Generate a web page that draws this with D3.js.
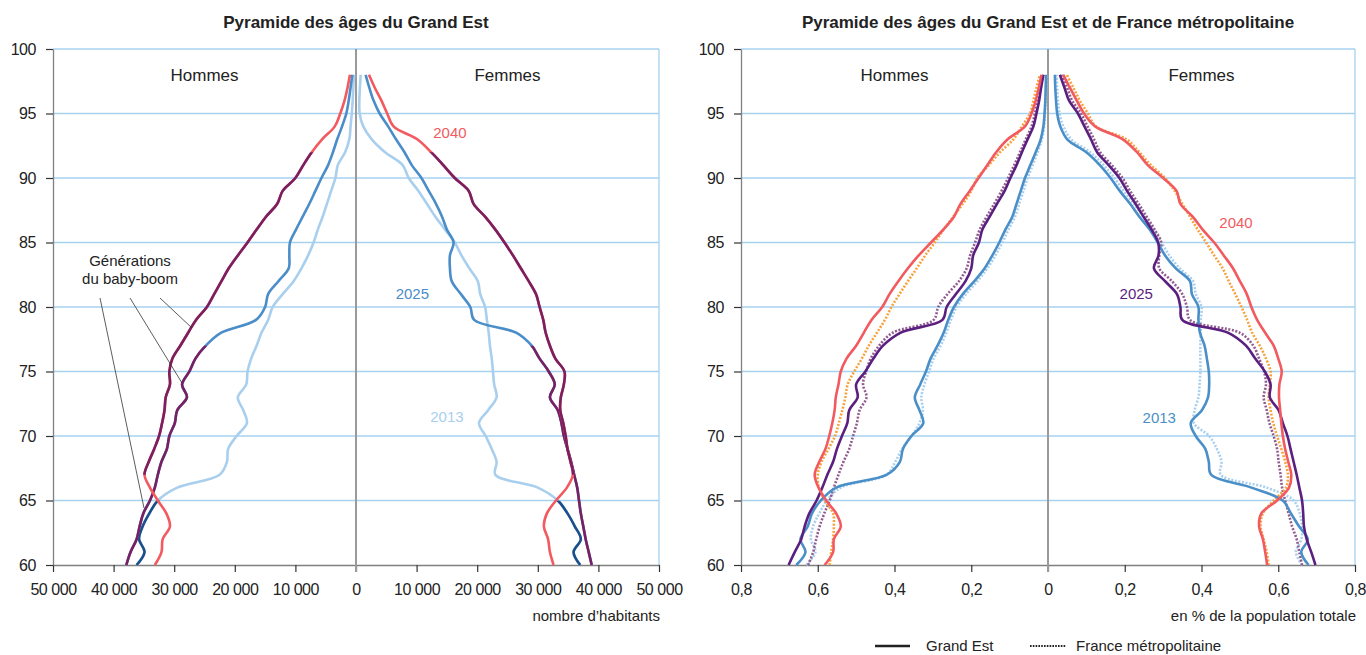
<!DOCTYPE html>
<html>
<head>
<meta charset="utf-8">
<script src="https://cdn.jsdelivr.net/npm/d3@7"></script>
<style>
	body { margin: 0; background: #fff; }
	svg text { font-family: "Liberation Sans", Arial, sans-serif; fill: #222; }
</style>
</head>
<body>
<div id="chart"></div>
<script>
//age categories (bottom to top)
var ages = [60,61,62,63,64,65,66,67,68,69,70,71,72,73,74,75,76,77,78,79,80,81,82,83,84,85,86,87,88,89,90,91,92,93,94,95,96,97,98];
var ageTicks = [60,65,70,75,80,85,90,95,100];

//baby-boom birth years
var boomFirst = 1948;
var boomLast = 1973;

//Grand Est, number of inhabitants
var countH2013 = [36200,34900,35800,35200,34100,32700,29500,22500,21300,21100,19700,18000,18600,19500,18100,17900,17300,16400,15600,14500,13750,12100,10300,9000,7900,7000,6300,5500,4800,4100,3400,3000,1800,1100,900,700,550,450,330];
var countH2025 = [37900,37200,36200,35700,35100,34000,33200,32700,32100,31200,30800,29900,29500,27900,28700,27500,26500,24800,22300,16500,15000,14500,12800,11100,11000,10900,9900,8800,7700,6700,5700,4600,3800,3100,2300,1600,1200,900,600];
var countH2040 = [33200,32100,31900,30700,31300,32700,34000,34900,34200,33300,32500,32000,31600,31400,30700,30800,30300,29000,27700,26400,24600,23400,22200,21000,19500,17900,16400,14850,13000,12100,10000,8700,7300,5600,3500,2600,1900,1400,1000];
var countF2013 = [37000,35900,37100,36100,34900,33300,30000,23000,23200,22400,21400,20300,21800,23200,22800,22600,22400,22100,21900,21600,21300,20500,20100,18700,17400,16300,14700,13100,11700,10300,8700,7700,4800,2600,1200,600,550,650,770];
var countF2025 = [38900,38400,37900,37500,37100,36800,36500,36000,35500,34900,34300,33900,33300,32000,32800,31800,30300,29000,26500,19500,18860,17300,15800,15500,15500,16100,15000,14200,13200,12000,10800,9200,8000,6600,5300,3900,2900,2200,1590];
var countF2040 = [32600,32000,31700,31000,31500,33000,34800,35800,35400,34900,34600,34200,33700,33800,34300,34400,32900,32000,31300,30900,30300,29700,28500,27200,25900,24500,23000,21300,19400,18600,16300,14400,12400,10100,6200,5150,4200,3100,2140];

//share of total population (%), Grand Est (ge) and France métropolitaine (fr)
var geH2013 = [0.656,0.632,0.645,0.626,0.615,0.592,0.552,0.420,0.386,0.378,0.356,0.325,0.335,0.347,0.333,0.318,0.306,0.288,0.272,0.260,0.245,0.222,0.192,0.165,0.145,0.127,0.111,0.093,0.082,0.071,0.060,0.046,0.032,0.019,0.012,0.009,0.007,0.006,0.005];
var frH2013 = [0.630,0.606,0.618,0.612,0.596,0.576,0.540,0.420,0.398,0.380,0.355,0.335,0.326,0.330,0.322,0.310,0.298,0.280,0.265,0.253,0.238,0.214,0.184,0.158,0.137,0.119,0.103,0.086,0.075,0.064,0.053,0.040,0.027,0.016,0.010,0.008,0.006,0.005,0.004];
var geH2025 = [0.676,0.660,0.643,0.634,0.622,0.603,0.588,0.575,0.560,0.550,0.537,0.523,0.518,0.496,0.500,0.476,0.455,0.430,0.385,0.275,0.264,0.240,0.215,0.200,0.195,0.180,0.171,0.152,0.133,0.113,0.098,0.082,0.068,0.053,0.038,0.030,0.023,0.018,0.012];
var frH2025 = [0.625,0.612,0.604,0.595,0.583,0.569,0.558,0.546,0.533,0.518,0.508,0.498,0.491,0.473,0.482,0.474,0.462,0.440,0.405,0.298,0.286,0.262,0.232,0.212,0.203,0.190,0.178,0.160,0.140,0.121,0.104,0.088,0.073,0.058,0.043,0.034,0.026,0.019,0.013];
var geH2040 = [0.582,0.560,0.558,0.540,0.552,0.578,0.598,0.608,0.596,0.580,0.570,0.562,0.556,0.553,0.546,0.540,0.525,0.500,0.480,0.460,0.432,0.413,0.390,0.365,0.337,0.305,0.273,0.245,0.228,0.204,0.181,0.158,0.135,0.105,0.060,0.043,0.032,0.024,0.017];
var frH2040 = [0.569,0.565,0.560,0.558,0.560,0.582,0.597,0.600,0.590,0.572,0.555,0.545,0.536,0.528,0.522,0.505,0.485,0.467,0.446,0.425,0.408,0.387,0.365,0.342,0.320,0.295,0.272,0.247,0.222,0.200,0.184,0.154,0.125,0.090,0.068,0.047,0.038,0.030,0.021];
var geF2013 = [0.679,0.660,0.677,0.654,0.633,0.612,0.530,0.425,0.419,0.410,0.385,0.372,0.401,0.417,0.420,0.419,0.414,0.408,0.396,0.392,0.392,0.375,0.370,0.333,0.305,0.286,0.265,0.238,0.214,0.187,0.163,0.135,0.100,0.050,0.032,0.024,0.021,0.019,0.018];
var frF2013 = [0.662,0.646,0.660,0.662,0.656,0.640,0.570,0.450,0.452,0.440,0.420,0.380,0.382,0.392,0.395,0.397,0.397,0.397,0.398,0.398,0.400,0.385,0.378,0.343,0.316,0.296,0.275,0.248,0.224,0.197,0.173,0.145,0.110,0.060,0.040,0.030,0.026,0.024,0.022];
var geF2025 = [0.697,0.686,0.674,0.667,0.665,0.662,0.655,0.648,0.640,0.632,0.624,0.612,0.601,0.578,0.580,0.565,0.540,0.516,0.470,0.350,0.345,0.336,0.305,0.276,0.288,0.287,0.270,0.249,0.228,0.206,0.186,0.158,0.128,0.112,0.095,0.078,0.055,0.043,0.031];
var frF2025 = [0.662,0.655,0.648,0.636,0.627,0.618,0.610,0.606,0.601,0.597,0.588,0.577,0.570,0.562,0.568,0.563,0.550,0.535,0.500,0.370,0.362,0.350,0.323,0.290,0.290,0.295,0.278,0.257,0.236,0.214,0.194,0.166,0.136,0.120,0.103,0.086,0.063,0.050,0.037];
var geF2040 = [0.571,0.566,0.560,0.550,0.556,0.597,0.628,0.634,0.626,0.618,0.612,0.608,0.605,0.602,0.603,0.609,0.600,0.588,0.566,0.545,0.530,0.518,0.500,0.482,0.458,0.433,0.403,0.377,0.345,0.335,0.300,0.260,0.232,0.195,0.123,0.094,0.075,0.057,0.040];
var frF2040 = [0.575,0.570,0.562,0.554,0.560,0.588,0.620,0.625,0.618,0.608,0.597,0.587,0.580,0.575,0.578,0.580,0.568,0.552,0.532,0.519,0.504,0.488,0.471,0.455,0.433,0.412,0.390,0.370,0.350,0.330,0.305,0.268,0.238,0.205,0.125,0.104,0.083,0.066,0.049];

//tick labels
var countTicks = [-50000,-40000,-30000,-20000,-10000,0,10000,20000,30000,40000,50000];
var pctTicks = [-0.8,-0.6,-0.4,-0.2,0,0.2,0.4,0.6,0.8];

var fr = d3.formatLocale({decimal: ",", thousands: "\u00a0", grouping: [3], currency: ["", " €"]});
var fmtCount = function(d){ return fr.format(",")(Math.abs(d)); };
var fmtPct = function(d){ return d === 0 ? "0" : fr.format(".1f")(Math.abs(d)); };

var W = 1366, H = 655;
var svg = d3.select('#chart').append('svg')
	.attr('width', W)
	.attr('height', H);

var pyramid = function(opts){
	this.svg = opts.svg;
	this.id = opts.id;
	this.left = opts.left;
	this.right = opts.right;
	this.top = 49;
	this.bottom = 565;
	this.opts = opts;
	this.draw();
}

pyramid.prototype.draw = function(){
	var o = this.opts;
	this.x = d3.scaleLinear().domain([-o.max, o.max]).range([this.left, this.right]);
	this.y = d3.scaleLinear().domain([60, 100]).range([this.bottom, this.top]);
	this.g = this.svg.append('g');

	this.addGrid();
	this.addAxes();
	this.addTexts();
	var that = this;
	o.layers.forEach(function(l){ that.addLine(l); });
	this.addLabels();
}

pyramid.prototype.addGrid = function(){
	var that = this;
	this.g.selectAll('.grid').data(ageTicks.filter(function(d){ return d > 60; }))
		.enter().append('line')
		.attr('x1', this.left).attr('x2', this.right)
		.attr('y1', function(d){ return that.y(d); })
		.attr('y2', function(d){ return that.y(d); })
		.attr('stroke', '#a6d2ef').attr('stroke-width', 1.3);
	this.g.append('line')
		.attr('x1', this.right).attr('x2', this.right)
		.attr('y1', this.top).attr('y2', this.bottom)
		.attr('stroke', '#a6d2ef').attr('stroke-width', 1.3);
}

pyramid.prototype.addAxes = function(){
	var o = this.opts;
	var xAxis = this.g.append('g')
		.attr('transform', 'translate(0,' + this.bottom + ')')
		.call(d3.axisBottom(this.x).tickValues(o.ticks).tickFormat(o.fmt).tickSize(7).tickSizeOuter(0).tickPadding(12));
	var yAxis = this.g.append('g')
		.attr('transform', 'translate(' + this.left + ',0)')
		.call(d3.axisLeft(this.y).tickValues(ageTicks).tickSize(7).tickSizeOuter(0).tickPadding(10));
	[xAxis, yAxis].forEach(function(a){
		a.select('.domain').attr('stroke', '#808080').attr('stroke-width', 1.3);
		a.selectAll('.tick line').attr('stroke', '#333').attr('stroke-width', 1.2);
		a.selectAll('.tick text').attr('font-size', 16).attr('fill', '#222')
			.attr('letter-spacing', -0.45)
			.style('font-family', '"Liberation Sans", Arial, sans-serif');
	});
	//centre line
	this.g.append('line')
		.attr('x1', this.x(0)).attr('x2', this.x(0))
		.attr('y1', this.top).attr('y2', this.bottom + 7)
		.attr('stroke', '#9a9a9a').attr('stroke-width', 2);
}

pyramid.prototype.addTexts = function(){
	var o = this.opts;
	var cx = this.x(0);
	this.g.append('text').attr('x', cx).attr('y', 28)
		.attr('text-anchor', 'middle').attr('font-size', 17).attr('font-weight', 'bold')
		.text(o.title);
	this.g.append('text').attr('x', this.x(-o.max / 2)).attr('y', 81)
		.attr('text-anchor', 'middle').attr('font-size', 17).text('Hommes');
	this.g.append('text').attr('x', this.x(o.max / 2)).attr('y', 81)
		.attr('text-anchor', 'middle').attr('font-size', 17).text('Femmes');
	this.g.append('text').attr('x', this.right + 1).attr('y', 621)
		.attr('text-anchor', 'end').attr('font-size', 15).text(o.unit);
}

pyramid.prototype.addLine = function(l){
	var that = this;
	var sign = l.sex == 'H' ? -1 : 1;
	var line = d3.line()
		.x(function(d, i){ return that.x(sign * d); })
		.y(function(d, i){ return that.y(ages[i]); })
		.curve(d3.curveCatmullRom.alpha(0.5));

	var path = this.g.append('path')
		.attr('d', line(l.values))
		.attr('fill', 'none')
		.attr('stroke', l.color)
		.attr('stroke-width', 2.6)
		.attr('stroke-linejoin', 'round');
	if(l.dash) path.attr('stroke-dasharray', l.dash);

	//baby-boom generations drawn again in a darker colour
	if(l.boom){
		var clipId = this.id + '-boom-' + l.sex + l.year;
		var yTop = this.y(l.year - boomFirst);
		var yBot = this.y(l.year - boomLast);
		this.g.append('defs').append('clipPath').attr('id', clipId)
		  .append('rect')
			.attr('x', this.left).attr('width', this.right - this.left)
			.attr('y', yTop).attr('height', yBot - yTop);
		this.g.append('path')
			.attr('d', line(l.values))
			.attr('fill', 'none')
			.attr('stroke', l.boom)
			.attr('stroke-width', 2.6)
			.attr('clip-path', 'url(#' + clipId + ')');
	}
}

pyramid.prototype.addLabels = function(){
	var that = this;
	this.opts.labels.forEach(function(d){
		that.g.append('text')
			.attr('x', that.x(d.v)).attr('y', that.y(d.age) + 5)
			.attr('text-anchor', 'middle').attr('font-size', 15)
			.style('fill', d.color)
			.text(d.text);
	});
}

//left chart: numbers of inhabitants
var chartLeft = new pyramid({
	svg: svg, id: 'left', left: 53, right: 659, max: 50000,
	ticks: countTicks, fmt: fmtCount,
	title: 'Pyramide des âges du Grand Est',
	unit: 'nombre d\u2019habitants',
	layers: [
		{sex: 'H', year: 2013, values: countH2013, color: '#a9cfee', boom: '#1b4f8a'},
		{sex: 'F', year: 2013, values: countF2013, color: '#a9cfee', boom: '#1b4f8a'},
		{sex: 'H', year: 2025, values: countH2025, color: '#4a8dc8', boom: '#7a2062'},
		{sex: 'F', year: 2025, values: countF2025, color: '#4a8dc8', boom: '#7a2062'},
		{sex: 'H', year: 2040, values: countH2040, color: '#f25a5f', boom: '#7a2062'},
		{sex: 'F', year: 2040, values: countF2040, color: '#f25a5f', boom: '#7a2062'}
	],
	labels: [
		{text: '2040', v: 15500, age: 93.5, color: '#f25a5f'},
		{text: '2025', v: 9300, age: 81, color: '#4a8dc8'},
		{text: '2013', v: 15000, age: 71.5, color: '#a9cfee'}
	]
});

//right chart: share of total population
var chartRight = new pyramid({
	svg: svg, id: 'right', left: 741, right: 1355, max: 0.8,
	ticks: pctTicks, fmt: fmtPct,
	title: 'Pyramide des âges du Grand Est et de France métropolitaine',
	unit: 'en % de la population totale',
	layers: [
		{sex: 'H', year: 2013, values: frH2013, color: '#a9cfee', dash: '2,1.6'},
		{sex: 'F', year: 2013, values: frF2013, color: '#a9cfee', dash: '2,1.6'},
		{sex: 'H', year: 2025, values: frH2025, color: '#915b8f', dash: '2,1.6'},
		{sex: 'F', year: 2025, values: frF2025, color: '#915b8f', dash: '2,1.6'},
		{sex: 'H', year: 2040, values: frH2040, color: '#f7a23c', dash: '2,1.6'},
		{sex: 'F', year: 2040, values: frF2040, color: '#f7a23c', dash: '2,1.6'},
		{sex: 'H', year: 2013, values: geH2013, color: '#4a8fc8'},
		{sex: 'F', year: 2013, values: geF2013, color: '#4a8fc8'},
		{sex: 'H', year: 2025, values: geH2025, color: '#5b1f80'},
		{sex: 'F', year: 2025, values: geF2025, color: '#5b1f80'},
		{sex: 'H', year: 2040, values: geH2040, color: '#f25a5f'},
		{sex: 'F', year: 2040, values: geF2040, color: '#f25a5f'}
	],
	labels: [
		{text: '2040', v: 0.49, age: 86.5, color: '#f25a5f'},
		{text: '2025', v: 0.23, age: 81, color: '#5b1f80'},
		{text: '2013', v: 0.29, age: 71.4, color: '#4a8fc8'}
	]
});

//baby-boom annotation
var note = svg.append('g');
note.append('text').attr('x', 130).attr('y', 266).attr('text-anchor', 'middle').attr('font-size', 15).text('Générations');
note.append('text').attr('x', 130).attr('y', 284).attr('text-anchor', 'middle').attr('font-size', 15).text('du baby-boom');
[[100, 298, 144, 508], [130, 298, 182, 383], [160, 298, 192, 328]].forEach(function(p){
	note.append('line')
		.attr('x1', p[0]).attr('y1', p[1]).attr('x2', p[2]).attr('y2', p[3])
		.attr('stroke', '#333').attr('stroke-width', 0.8);
});

//legend
var legend = svg.append('g').attr('transform', 'translate(0,646)');
legend.append('line').attr('x1', 875).attr('x2', 910).attr('y1', 0).attr('y2', 0)
	.attr('stroke', '#222').attr('stroke-width', 2.6);
legend.append('text').attr('x', 926).attr('y', 5).attr('font-size', 15).text('Grand Est');
legend.append('line').attr('x1', 1030).attr('x2', 1066).attr('y1', 0).attr('y2', 0)
	.attr('stroke', '#222').attr('stroke-width', 2).attr('stroke-dasharray', '1.6,1.2');
legend.append('text').attr('x', 1076).attr('y', 5).attr('font-size', 15).text('France métropolitaine');
</script>
</body>
</html>
